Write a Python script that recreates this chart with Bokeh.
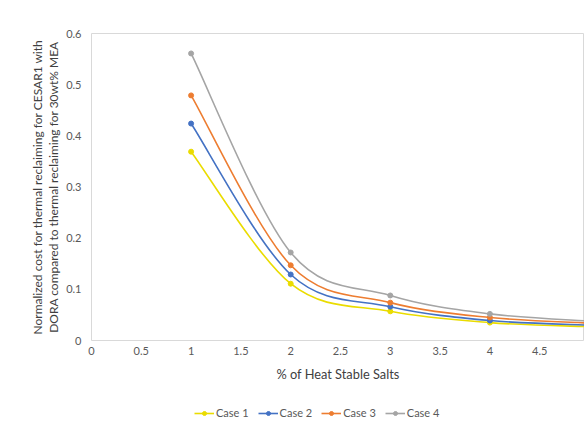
from bokeh.plotting import figure
from bokeh.layouts import column
from bokeh.models import Range1d, FixedTicker, CustomJSTickFormatter, Legend, LegendItem
from bokeh.embed import file_html
from bokeh.resources import INLINE

hss = [1, 2, 3, 4, 5]
case1 = [0.369, 0.111, 0.057, 0.035, 0.027]
case2 = [0.424, 0.129, 0.066, 0.039, 0.030]
case3 = [0.479, 0.147, 0.074, 0.045, 0.034]
case4 = [0.561, 0.172, 0.088, 0.052, 0.038]
names = ["Case 1", "Case 2", "Case 3", "Case 4"]
colors = ["#EADC00", "#4472C4", "#ED7D31", "#A5A5A5"]
x_ticks = [0, 0.5, 1, 1.5, 2, 2.5, 3, 3.5, 4, 4.5, 5]
y_ticks = [0, 0.1, 0.2, 0.3, 0.4, 0.5, 0.6]

FONT = "Lato"

p = figure(frame_width=493, frame_height=307, x_range=Range1d(0, 4.95), y_range=Range1d(0, 0.6),
           output_backend="svg", toolbar_location=None,
           min_border_left=91, min_border_top=33, min_border_bottom=62, min_border_right=0)
p.outline_line_color = "#d9d9d9"
p.xgrid.visible = False
p.ygrid.visible = False

for ax in (p.xaxis[0], p.yaxis[0]):
    ax.axis_line_color = None
    ax.major_tick_line_color = None
    ax.minor_tick_line_color = None
    ax.major_tick_out = 0
    ax.major_tick_in = 0
    ax.minor_tick_out = 0
    ax.major_label_text_font = FONT
    ax.major_label_text_font_size = "11px"
    ax.major_label_text_color = "#595959"
    ax.axis_label_text_font = FONT
    ax.axis_label_text_font_size = "12px"
    ax.axis_label_text_font_style = "normal"
    ax.axis_label_text_color = "#404040"
    ax.axis_label_text_line_height = 1.05
    ax.formatter = CustomJSTickFormatter(code="return tick.toString();")

p.xaxis.ticker = FixedTicker(ticks=x_ticks)
p.yaxis.ticker = FixedTicker(ticks=y_ticks)
p.xaxis.axis_label = "% of Heat Stable Salts"
p.xaxis.axis_label_text_font_size = "12.8px"
p.yaxis.axis_label = ("Normalized cost for thermal reclaiming for CESAR1 with\n"
                      "DORA compared to thermal reclaiming for 30wt% MEA")
p.xaxis.major_label_standoff = 6
p.xaxis.axis_label_standoff = 8
p.yaxis.major_label_standoff = 10
p.yaxis.axis_label_standoff = 2


def smooth_segments(xs, ys):
    n = len(xs)
    x0, y0, x1, y1, cx0, cy0, cx1, cy1 = [], [], [], [], [], [], [], []
    for i in range(n - 1):
        im1 = max(i - 1, 0)
        ip2 = min(i + 2, n - 1)
        x0.append(xs[i]); y0.append(ys[i])
        x1.append(xs[i + 1]); y1.append(ys[i + 1])
        cx0.append(xs[i] + (xs[i + 1] - xs[im1]) / 6)
        cy0.append(ys[i] + (ys[i + 1] - ys[im1]) / 6)
        cx1.append(xs[i + 1] - (xs[ip2] - xs[i]) / 6)
        cy1.append(ys[i + 1] - (ys[ip2] - ys[i]) / 6)
    return dict(x0=x0, y0=y0, x1=x1, y1=y1, cx0=cx0, cy0=cy0, cx1=cx1, cy1=cy1)


for name, ys, col in zip(names, [case1, case2, case3, case4], colors):
    seg = smooth_segments(hss, ys)
    p.bezier(x0=seg["x0"], y0=seg["y0"], x1=seg["x1"], y1=seg["y1"],
             cx0=seg["cx0"], cy0=seg["cy0"], cx1=seg["cx1"], cy1=seg["cy1"],
             line_color=col, line_width=1.6)
    p.scatter(hss, ys, marker="circle", size=5, fill_color=col, line_color=col)

# legend strip below the chart (separate figure, data kept outside its view)
lg = figure(width=584, height=22, x_range=Range1d(100, 101), y_range=Range1d(100, 101),
            output_backend="svg", toolbar_location=None,
            min_border_left=0, min_border_right=0, min_border_top=0, min_border_bottom=0)
lg.axis.visible = False
lg.grid.visible = False
lg.outline_line_color = None

items = []
for name, ys, col in zip(names, [case1, case2, case3, case4], colors):
    ln = lg.line(hss, ys, line_color=col, line_width=1.6)
    mk = lg.scatter(hss, ys, marker="circle", size=5, fill_color=col, line_color=col)
    items.append(LegendItem(label=name, renderers=[ln, mk]))

legend = Legend(items=items, orientation="horizontal", location=(103, 5),
                label_text_font=FONT, label_text_font_size="11px", label_text_color="#595959",
                glyph_width=20, glyph_height=10, spacing=9, label_standoff=2,
                border_line_color=None, background_fill_alpha=0, padding=0, margin=0,
                label_height=12)
lg.add_layout(legend, "center")

layout = column(p, lg, spacing=0)
open("out.html", "w").write(file_html(layout, INLINE))
